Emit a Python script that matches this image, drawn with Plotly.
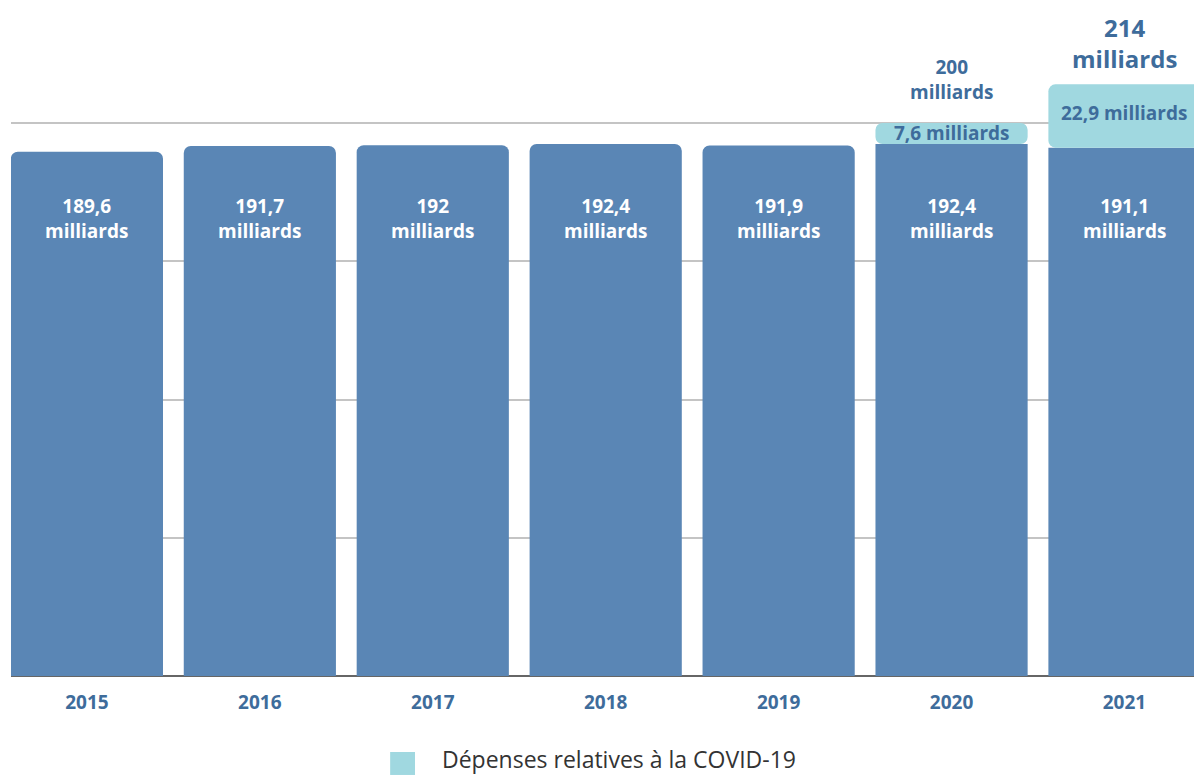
import plotly.graph_objects as go

years = ["2015", "2016", "2017", "2018", "2019", "2020", "2021"]
base_vals = [189.6, 191.7, 192.0, 192.4, 191.9, 192.4, 191.1]
covid_years = ["2020", "2021"]
covid_vals = [7.6, 22.9]
covid_base = [192.4, 191.1]
totals = [200, 214]
legend_name = "Dépenses relatives à la COVID-19"

BLUE = "#5A86B5"
CYAN = "#A0D8E0"
DARK = "#3E6C9B"
FONT = "Open Sans"


def fr(v):
    s = ("%.1f" % v).replace(".", ",")
    if s.endswith(",0"):
        s = s[:-2]
    return s


fig = go.Figure()
fig.add_trace(go.Bar(x=years, y=base_vals, marker=dict(color=BLUE, line=dict(width=0)),
                     showlegend=False, hoverinfo="skip"))
fig.add_trace(go.Bar(x=covid_years, y=covid_vals, base=covid_base,
                     marker=dict(color=CYAN, line=dict(width=0)),
                     showlegend=False, hoverinfo="skip"))

for yr, v in zip(years, base_vals):
    fig.add_annotation(x=years.index(yr), y=165.5, text="<b>" + fr(v) + "<br>milliards</b>",
                       showarrow=False, font=dict(family=FONT, size=19, color="white"),
                       xanchor="center", yanchor="middle")
for yr, b, c in zip(covid_years, covid_base, covid_vals):
    fig.add_annotation(x=years.index(yr), y=b + c / 2, text="<b>" + fr(c) + " milliards</b>",
                       showarrow=False, font=dict(family=FONT, size=19, color=DARK),
                       xanchor="center", yanchor="middle", yshift=3 if c > 10 else 1)
for i, (yr, t) in enumerate(zip(covid_years, totals)):
    big = i == len(totals) - 1
    fig.add_annotation(x=years.index(yr), y=t, text="<b>" + fr(t) + "<br>milliards</b>",
                       showarrow=False,
                       font=dict(family=FONT, size=24 if big else 19, color=DARK),
                       xanchor="center", yanchor="bottom", yshift=7 if big else 16)

# legend (swatch + label)
fig.add_shape(type="rect", xref="paper", yref="paper", x0=0.3205, x1=0.3415, y0=-0.1124, y1=-0.1464,
              fillcolor=CYAN, line=dict(width=0))
fig.add_annotation(xref="paper", yref="paper", x=0.363, y=-0.1235, xanchor="left", yanchor="middle",
                   text=legend_name, showarrow=False,
                   font=dict(family=FONT, size=23, color="#333333"))

fig.update_layout(
    width=1194, height=776,
    margin=dict(l=11, r=0, t=0, b=100),
    paper_bgcolor="white", plot_bgcolor="white",
    barmode="overlay", bargap=0.12, barcornerradius=7,
    showlegend=False,
    xaxis=dict(type="category", range=[-0.439, 6.402], showgrid=False, showline=False,
               ticks="outside", ticklen=9, tickcolor="rgba(0,0,0,0)",
               tickfont=dict(family=FONT, size=19, color=DARK, weight="bold"),
               fixedrange=True),
    yaxis=dict(range=[0, 244.5], dtick=50, showgrid=True, gridcolor="#C4C4C4", gridwidth=1.5,
               zeroline=True, zerolinecolor="#666666", zerolinewidth=2,
               showticklabels=False, fixedrange=True),
)

fig.write_html("out.html")
